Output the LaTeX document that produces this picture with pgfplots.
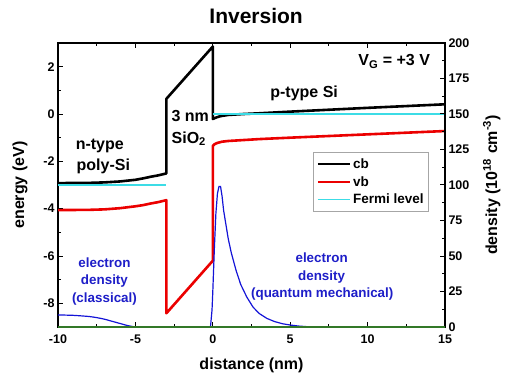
\documentclass[border=0pt]{standalone}
\usepackage{fontspec}
\setmainfont{Liberation Sans}
\usepackage{pgfplots}
\pgfplotsset{compat=1.18}
\definecolor{cbred}{RGB}{235,0,0}
\definecolor{fermi}{RGB}{60,220,230}
\definecolor{eblue}{RGB}{20,20,215}
\definecolor{txtblue}{RGB}{30,30,200}
\definecolor{dgreen}{RGB}{50,120,40}
\begin{document}
\bfseries
\begin{tikzpicture}
\path[use as bounding box] (0,0) rectangle (511pt,383pt);
\begin{axis}[
  at={(58pt,56pt)}, anchor=south west,
  scale only axis, width=387pt, height=284pt,
  xmin=-10, xmax=15, ymin=-9, ymax=3,
  xtick={-10,-5,...,15}, ytick={-8,-6,...,2},
  minor x tick num=1, minor y tick num=1,
  xtick pos=both, ytick pos=left,
  tick align=inside,
  major tick length=5pt, minor tick length=3pt,
  every tick/.style={black, line width=1pt},
  axis line style={line width=1.2pt},
  tick label style={font=\fontsize{12.5}{14}\selectfont\bfseries},
  xticklabel style={yshift=-4pt},
  /pgf/number format/assume math mode=true,
  xlabel={distance (nm)}, ylabel={energy (eV)},
  label style={font=\fontsize{16}{18}\selectfont\bfseries},
  xlabel style={at={(axis description cs:0.5,-0.134)}, anchor=center},
  ylabel style={at={(axis description cs:-0.098,0.5)}, anchor=center},
  title={Inversion},
  title style={at={(axis description cs:0.512,1.074)}, anchor=center, font=\fontsize{21}{24}\selectfont\bfseries},
  legend style={at={(axis description cs:0.959,0.616)}, anchor=north east, draw=gray!70, line width=0.8pt,
    font=\fontsize{13.5}{16.5}\selectfont\bfseries, inner xsep=3pt, inner ysep=4pt, row sep=2.5pt, cells={anchor=west}},
  legend image code/.code={\draw[#1] (0pt,0pt) -- (32pt,0pt);},
  unbounded coords=jump,
]
\addplot[black, line width=2.6pt, line join=round] coordinates {
(-10,-2.92) (-8,-2.91) (-7,-2.89) (-6,-2.85) (-5,-2.78) (-4.5,-2.72) (-4,-2.65) (-3.5,-2.59) (-3,-2.51)
(-3,0.64) (0,2.85) (0,-0.21) (0.25,-0.14) (0.5,-0.09) (1,-0.04) (2,0.0) (3,0.03) (5,0.1) (10,0.26) (15,0.41)
};
\addlegendentry{cb}
\addplot[cbred, line width=2.6pt, line join=round] coordinates {
(-10,-4.06) (-8,-4.05) (-7,-4.03) (-6,-3.98) (-5,-3.9) (-4.5,-3.85) (-4,-3.78) (-3.5,-3.72) (-3,-3.64)
(-3,-8.42) (0,-6.2) (0,-1.35) (0.1,-1.28) (0.3,-1.22) (0.6,-1.17) (1,-1.14) (2,-1.1) (3,-1.06) (5,-1.0) (10,-0.86) (15,-0.72)
};
\addlegendentry{vb}
\addplot[fermi, line width=1.5pt] coordinates {
(-10,-3) (-3,-3) (0,nan) (0,0) (15,0)
};
\addlegendentry{Fermi level}
\node[anchor=base, font=\fontsize{16}{18}\selectfont\bfseries] at (axis cs:11.72,2.05) {V\textsubscript{G} = +3 V};
\node[anchor=base, font=\fontsize{16}{18}\selectfont\bfseries] at (axis cs:5.9,0.68) {p-type Si};
\node[anchor=base, font=\fontsize{16}{18}\selectfont\bfseries] at (axis cs:-7.3,-1.49) {n-type};
\node[anchor=base, font=\fontsize{16}{18}\selectfont\bfseries] at (axis cs:-7.07,-2.38) {poly-Si};
\node[anchor=base, font=\fontsize{16}{18}\selectfont\bfseries] at (axis cs:-1.46,-0.33) {3 nm};
\node[anchor=base, font=\fontsize{16}{18}\selectfont\bfseries] at (axis cs:-1.55,-1.23) {SiO\textsubscript{2}};
\node[anchor=base, text=txtblue, font=\fontsize{13.4}{15}\selectfont\bfseries] at (axis cs:-7.0,-6.47) {electron};
\node[anchor=base, text=txtblue, font=\fontsize{13.4}{15}\selectfont\bfseries] at (axis cs:-7.0,-7.2) {density};
\node[anchor=base, text=txtblue, font=\fontsize{13.4}{15}\selectfont\bfseries] at (axis cs:-7.0,-7.96) {(classical)};
\node[anchor=base, text=txtblue, font=\fontsize{13.4}{15}\selectfont\bfseries] at (axis cs:7.03,-6.28) {electron};
\node[anchor=base, text=txtblue, font=\fontsize{13.4}{15}\selectfont\bfseries] at (axis cs:7.03,-7.03) {density};
\node[anchor=base, text=txtblue, font=\fontsize{13.4}{15}\selectfont\bfseries] at (axis cs:7.07,-7.74) {(quantum mechanical)};
\end{axis}
\begin{axis}[
  at={(58pt,56pt)}, anchor=south west,
  scale only axis, width=387pt, height=284pt,
  xmin=-10, xmax=15, ymin=0, ymax=200,
  axis y line*=right, axis x line=none,
  y axis line style={-, line width=1.2pt},
  ytick={0,25,...,200}, minor y tick num=1, ytick pos=right,
  tick align=inside,
  major tick length=5pt, minor tick length=3pt,
  every tick/.style={black, line width=1pt},
  tick label style={font=\fontsize{12.5}{14}\selectfont\bfseries},
  /pgf/number format/assume math mode=true,
  ylabel={density (10\textsuperscript{18} cm\textsuperscript{-3})},
  label style={font=\fontsize{16}{18}\selectfont\bfseries},
  ylabel style={at={(axis description cs:1.121,0.5)}, anchor=center},
  clip=false,
]
\addplot[eblue, line width=1.2pt, smooth, tension=0.4] coordinates {
(-10,8.5) (-9,8.2) (-8,7.4) (-7.5,6.6) (-7,5.5) (-6.5,4.0) (-6,2.5) (-5.5,1.0) (-5,0)
};
\addplot[eblue, line width=1.2pt] coordinates {
(-0.15,0) (-0.05,12) (0,25) (0.1,55) (0.2,80) (0.3,94) (0.4,99) (0.5,99) (0.6,92) (0.7,82) (0.85,72) (1.0,62) (1.2,52) (1.5,40) (1.8,30) (2.2,21) (2.6,14) (3.0,9.5) (3.5,6) (4,3.8) (4.5,2.3) (5,1.4) (5.5,0.7) (6,0.3) (6.5,0)
};
\addplot[dgreen, line width=1.5pt] coordinates {(-10,0) (15,0)};
\end{axis}
\end{tikzpicture}
\end{document}
